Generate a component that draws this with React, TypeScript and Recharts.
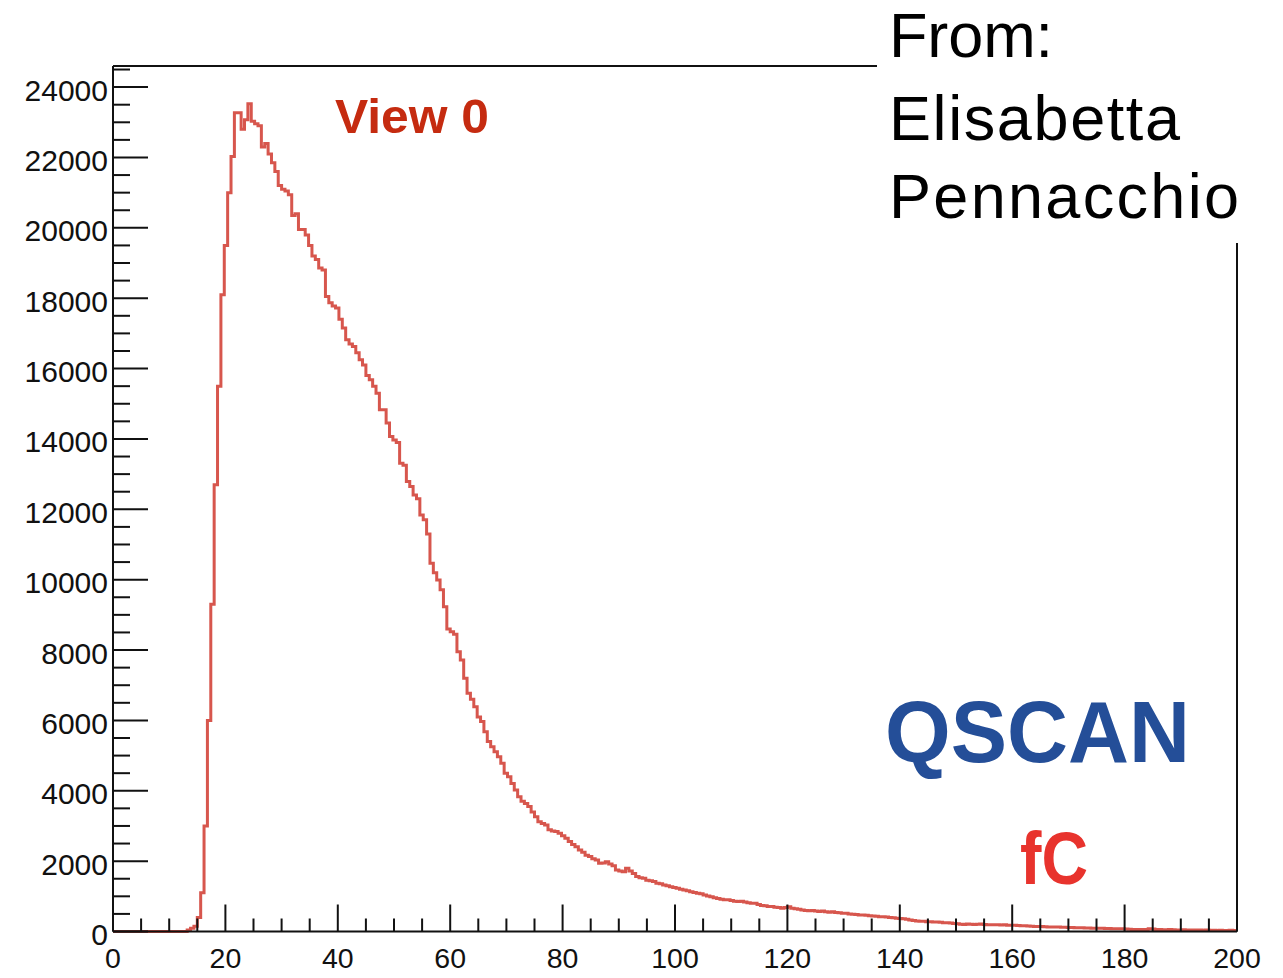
import React from 'react';
import { LineChart, Line, XAxis, YAxis, ReferenceLine } from 'recharts';

// Histogram binning (fC): 0.6 fC bins, shown from 0 to 200
const binWidth = 0.6;
const xMax = 200;
const yMax = 24600;

// Entries per bin, starting at 0 fC
const counts: number[] = [
  // 0 – 12 fC
  0, 0, 0, 0, 0, 0, 0, 0, 0, 0, 0, 0, 0, 0, 0, 0, 0, 0, 0, 0,
  // 12 – 24 fC
  0, 0, 40, 90, 150, 400, 1100, 3000, 6000, 9300,
  12700, 15500, 18100, 19500, 21000, 22030, 23270, 23270, 22800, 23070,
  // 24 – 36 fC
  23530, 23030, 22960, 22900, 22300, 22400, 22100, 21850, 21600, 21200,
  21100, 21050, 20940, 20350, 20400, 19950, 19950, 19800, 19500, 19200,
  // 36 – 48 fC
  19100, 18860, 18800, 18050, 17870, 17780, 17720, 17400, 17150, 16820,
  16700, 16630, 16450, 16250, 16100, 15800, 15680, 15500, 15300, 14830,
  // 48 – 60 fC
  14830, 14450, 14070, 13970, 13900, 13310, 13250, 12790, 12650, 12410,
  12300, 11840, 11700, 11300, 10470, 10200, 9990, 9710, 9230, 8600,
  // 60 – 72 fC
  8520, 8450, 7950, 7720, 7200, 6770, 6600, 6390, 6100, 5970,
  5680, 5400, 5250, 5110, 4970, 4780, 4500, 4400, 4210, 4020,
  // 72 – 84 fC
  3830, 3700, 3640, 3550, 3400, 3260, 3120, 3070, 3030, 2890,
  2860, 2840, 2790, 2720, 2650, 2560, 2470, 2410, 2320, 2250,
  // 84 – 96 fC
  2170, 2130, 2070, 2030, 1940, 1950, 1980, 1920, 1870, 1750,
  1720, 1700, 1800, 1720, 1650, 1560, 1530, 1510, 1460, 1440,
  // 96 – 108 fC
  1420, 1370, 1360, 1320, 1300, 1270, 1250, 1230, 1200, 1180,
  1160, 1130, 1110, 1090, 1070, 1040, 1010, 990, 960, 940,
  // 108 – 120 fC
  920, 900, 900, 880, 860, 850, 860, 840, 820, 800,
  800, 770, 740, 730, 710, 710, 690, 680, 660, 680,
  // 120 – 132 fC
  700, 660, 650, 630, 610, 600, 590, 600, 580, 570,
  580, 560, 550, 560, 540, 530, 520, 520, 500, 490,
  // 132 – 144 fC
  480, 470, 470, 460, 450, 440, 430, 420, 420, 410,
  400, 390, 380, 370, 360, 350, 330, 310, 300, 290,
  // 144 – 156 fC
  290, 280, 280, 270, 270, 260, 250, 250, 240, 230,
  220, 205, 200, 210, 205, 200, 205, 210, 200, 195,
  // 156 – 168 fC
  190, 195, 190, 185, 190, 180, 180, 175, 170, 165,
  160, 155, 150, 145, 140, 140, 135, 130, 130, 125,
  // 168 – 180 fC
  125, 120, 120, 115, 115, 110, 110, 105, 100, 100,
  95, 95, 90, 90, 85, 85, 80, 80, 75, 75,
  // 180 – 192 fC
  70, 65, 60, 60, 55, 55, 60, 75, 70, 60,
  55, 50, 50, 55, 50, 45, 45, 50, 45, 40,
  // 192 – 200 fC
  40, 45, 40, 35, 40, 35, 35, 30, 35, 30,
  30, 35, 30, 30,
];

const xTicks: number[] = [
  0, 5, 10, 15, 20, 25, 30, 35, 40, 45, 50, 55, 60, 65, 70, 75, 80, 85, 90, 95, 100,
  105, 110, 115, 120, 125, 130, 135, 140, 145, 150, 155, 160, 165, 170, 175, 180, 185, 190, 195, 200,
];
const xLabelStep = 20;

const yTicks: number[] = [
  0, 500, 1000, 1500, 2000, 2500, 3000, 3500, 4000, 4500, 5000, 5500, 6000, 6500,
  7000, 7500, 8000, 8500, 9000, 9500, 10000, 10500, 11000, 11500, 12000, 12500,
  13000, 13500, 14000, 14500, 15000, 15500, 16000, 16500, 17000, 17500, 18000,
  18500, 19000, 19500, 20000, 20500, 21000, 21500, 22000, 22500, 23000, 23500, 24000, 24500,
];
const yLabelStep = 2000;

// Step outline: each bin contributes its low edge; a closing point ends the drawn range
const histData = [
  ...counts.map((c, i) => ({ x: Math.round(i * binWidth * 1000) / 1000, y: c })),
  { x: xMax, y: counts[counts.length - 1] },
];

const FONT = '"Liberation Sans", Arial, Helvetica, sans-serif';
const INK = '#111';

// ROOT-style ticks: drawn inward from the axis, label outside
const XTick = (props: any) => {
  const { x, y, payload } = props;
  const v = payload.value as number;
  const major = v % xLabelStep === 0;
  return (
    <g>
      <line x1={x} x2={x} y1={y} y2={y - (major ? 27 : 13)} stroke={INK} strokeWidth={2} />
      {major && (
        <text x={x} y={y + 36.5} textAnchor="middle" fontFamily={FONT} fontSize={28.5} fill={INK}>
          {v}
        </text>
      )}
    </g>
  );
};

const YTick = (props: any) => {
  const { x, y, payload } = props;
  const v = payload.value as number;
  const major = v % yLabelStep === 0;
  return (
    <g>
      <line x1={x} x2={x + (major ? 35 : 17)} y1={y} y2={y} stroke={INK} strokeWidth={2} />
      {major && (
        <text x={x - 5} y={y + 13.5} textAnchor="end" fontFamily={FONT} fontSize={30} fill={INK}>
          {v}
        </text>
      )}
    </g>
  );
};

export default function App() {
  return (
    <div style={{ position: 'absolute', left: 0, top: 0, width: 1283, height: 978, background: '#fff' }}>
      <LineChart
        width={1283}
        height={978}
        data={histData}
        margin={{ top: 66, right: 46, bottom: 0, left: 13 }}
      >
        <XAxis
          type="number"
          dataKey="x"
          domain={[0, xMax]}
          ticks={xTicks}
          interval={0}
          height={46.5}
          tickLine={false}
          tickSize={0}
          tickMargin={0}
          axisLine={{ stroke: INK, strokeWidth: 2 }}
          tick={<XTick />}
        />
        <YAxis
          type="number"
          domain={[0, yMax]}
          ticks={yTicks}
          interval={0}
          width={100}
          tickLine={false}
          tickSize={0}
          tickMargin={0}
          axisLine={{ stroke: INK, strokeWidth: 2 }}
          tick={<YTick />}
        />
        <ReferenceLine y={yMax} stroke={INK} strokeWidth={2} />
        <ReferenceLine x={xMax} stroke={INK} strokeWidth={2} />
        <Line
          type="stepAfter"
          dataKey="y"
          stroke="#d7564d"
          strokeWidth={3}
          dot={false}
          activeDot={false}
          isAnimationActive={false}
        />
      </LineChart>
      <svg
        width={1283}
        height={978}
        style={{ position: 'absolute', left: 0, top: 0, pointerEvents: 'none' }}
      >
        <rect x={877} y={0} width={406} height={243} fill="#fff" />
        <text x={889} y={57} fontFamily={FONT} fontSize={63} fill="#000" textLength={164} lengthAdjust="spacing">
          From:
        </text>
        <text x={889} y={140} fontFamily={FONT} fontSize={63} fill="#000" textLength={291} lengthAdjust="spacing">
          Elisabetta
        </text>
        <text x={889} y={218} fontFamily={FONT} fontSize={63} fill="#000" textLength={350} lengthAdjust="spacing">
          Pennacchio
        </text>
        <text x={335} y={133} fontFamily={FONT} fontSize={49} fontWeight="bold" fill="#c52b10" textLength={154} lengthAdjust="spacingAndGlyphs">
          View 0
        </text>
        <text x={885} y={762} fontFamily={FONT} fontSize={87} fontWeight="bold" fill="#244e98" textLength={305} lengthAdjust="spacingAndGlyphs">
          QSCAN
        </text>
        <text x={1020} y={884} fontFamily={FONT} fontSize={74} fontWeight="bold" fill="#e8332d" textLength={68} lengthAdjust="spacingAndGlyphs">
          fC
        </text>
      </svg>
    </div>
  );
}
